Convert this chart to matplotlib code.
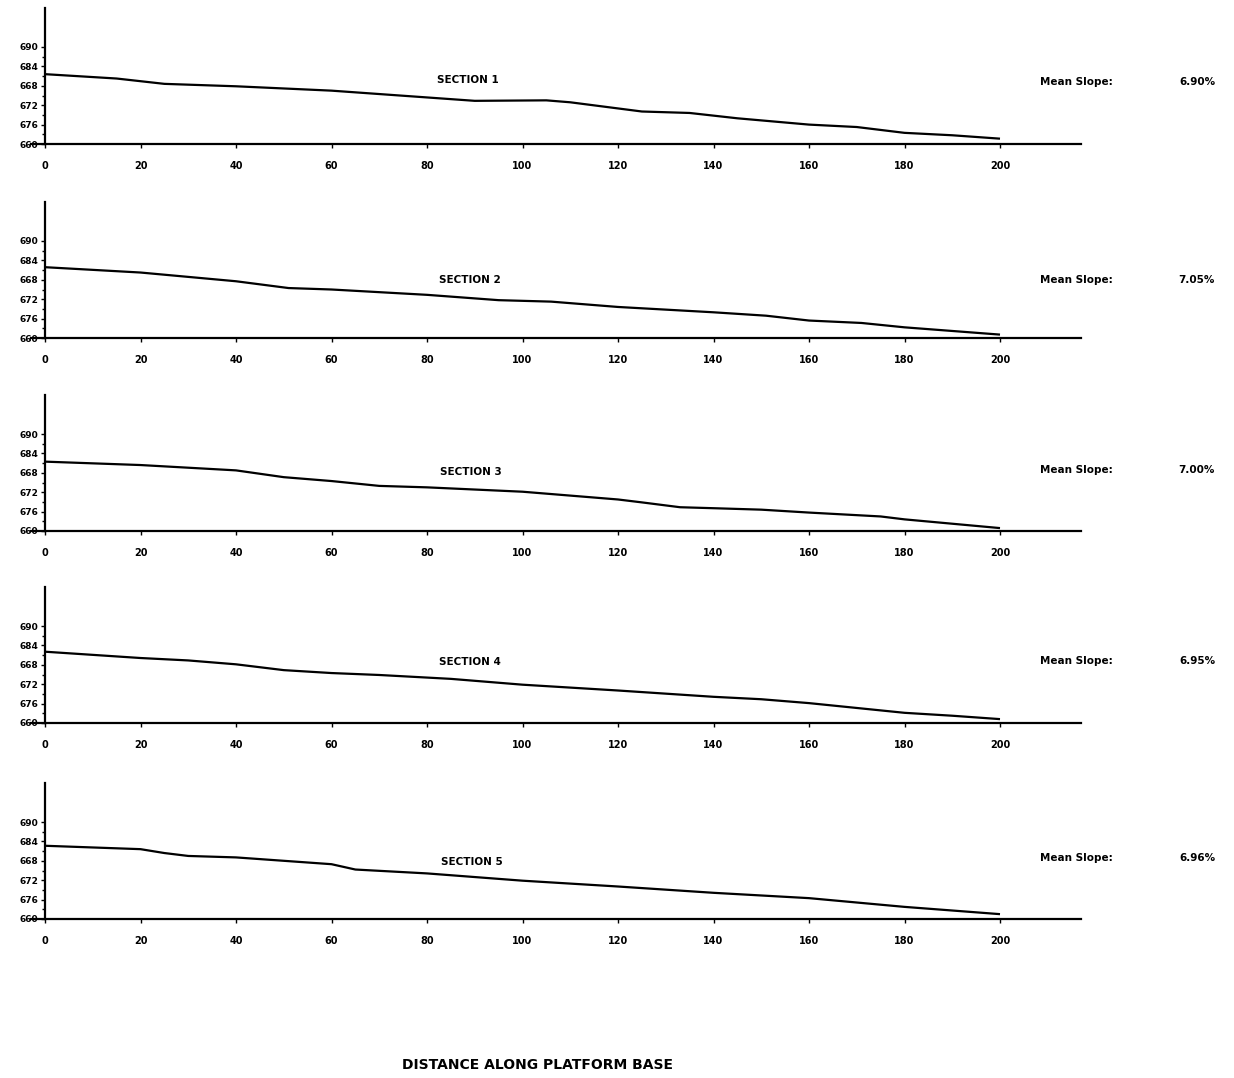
import matplotlib
matplotlib.use("Agg")
import matplotlib.pyplot as plt
import numpy as np

# ---------------- data ----------------
sections = ["SECTION 1", "SECTION 2", "SECTION 3", "SECTION 4", "SECTION 5"]
mean_slopes = ["6.90%", "7.05%", "7.00%", "6.95%", "6.96%"]

s1_x = [0, 15, 25, 40, 60, 80, 90, 105, 110, 125, 135, 145, 160, 170, 180, 190, 200]
s1_y = [14.4, 13.5, 12.4, 11.9, 11.0, 9.6, 8.9, 9.0, 8.6, 6.7, 6.4, 5.3, 4.0, 3.5, 2.3, 1.8, 1.1]

s2_x = [0, 20, 40, 51, 60, 80, 95, 106, 120, 140, 151, 160, 171, 180, 200]
s2_y = [14.6, 13.5, 11.7, 10.3, 10.0, 8.9, 7.8, 7.5, 6.4, 5.3, 4.6, 3.6, 3.1, 2.2, 0.7]

s3_x = [0, 20, 40, 50, 60, 70, 80, 100, 110, 120, 125, 133, 140, 150, 160, 175, 180, 200]
s3_y = [14.3, 13.6, 12.5, 11.1, 10.3, 9.3, 9.0, 8.1, 7.3, 6.5, 5.9, 4.9, 4.7, 4.4, 3.8, 3.0, 2.4, 0.6]

s4_x = [0, 20, 30, 40, 50, 60, 70, 85, 100, 120, 140, 150, 160, 170, 180, 190, 200]
s4_y = [14.7, 13.4, 12.9, 12.1, 10.9, 10.3, 9.9, 9.1, 7.9, 6.7, 5.4, 4.9, 4.1, 3.1, 2.1, 1.5, 0.8]

s5_x = [0, 20, 25, 30, 40, 60, 65, 80, 100, 120, 140, 160, 180, 200]
s5_y = [15.1, 14.4, 13.6, 13.0, 12.7, 11.3, 10.2, 9.4, 7.9, 6.7, 5.4, 4.3, 2.5, 1.0]

profiles_x = [s1_x, s2_x, s3_x, s4_x, s5_x]
profiles_y = [s1_y, s2_y, s3_y, s4_y, s5_y]

x_ticks = [0, 20, 40, 60, 80, 100, 120, 140, 160, 180, 200]
y_ticks = [0, 4, 8, 12, 16, 20]
y_minor_ticks = [2, 6, 10, 14, 18]
y_tick_labels = ["660", "676", "672", "668", "684", "690"]

x_title = "DISTANCE ALONG PLATFORM BASE"

# ---------------- layout ----------------
W, H = 1234, 1078
fig = plt.figure(figsize=(W / 100, H / 100), dpi=100)

baselines_px = [144, 338, 531, 723, 919]
px_per_unit = 4.85
ylim_top = 28
x_left, x_right = -3, 217
left_px = 45 + x_left * 4.775
right_px = 45 + x_right * 4.775

section_pos = [(468, 80), (470, 280), (471, 472), (470, 662), (472, 862)]
slope_y = [82, 280, 470, 661, 858]

font = dict(family="DejaVu Sans", fontweight="bold")

for i in range(5):
    base = baselines_px[i]
    height_px = ylim_top * px_per_unit
    ax = fig.add_axes([left_px / W, 1 - base / H, (right_px - left_px) / W, height_px / H])
    ax.plot(profiles_x[i], profiles_y[i], color="black", lw=1.6, solid_capstyle="butt")
    ax.set_xlim(x_left, x_right)
    ax.set_ylim(0, ylim_top)
    ax.spines["top"].set_visible(False)
    ax.spines["right"].set_visible(False)
    ax.spines["left"].set_position(("data", 0))
    ax.spines["left"].set_bounds(0, ylim_top)
    for s in ("left", "bottom"):
        ax.spines[s].set_linewidth(1.6)
    ax.set_xticks(x_ticks)
    ax.set_xticklabels([str(v) for v in x_ticks], fontsize=7, **font)
    ax.set_yticks(y_ticks)
    ax.set_yticklabels(y_tick_labels, fontsize=6.5, **font)
    ax.set_yticks(y_minor_ticks, minor=True)
    ax.tick_params(axis="x", direction="out", length=3, width=1, pad=9)
    ax.tick_params(axis="y", direction="out", length=3, width=1, pad=2)
    ax.tick_params(axis="y", which="minor", direction="out", length=2, width=1)
    ax.patch.set_alpha(0)

    sx, sy = section_pos[i]
    fig.text(sx / W, 1 - sy / H, sections[i], ha="center", va="center", fontsize=7.5, **font)
    fig.text(1040 / W, 1 - slope_y[i] / H, "Mean Slope:", ha="left", va="center", fontsize=7.5, **font)
    fig.text(1215 / W, 1 - slope_y[i] / H, mean_slopes[i], ha="right", va="center", fontsize=7.5, **font)

fig.text(538 / W, 1 - 1065 / H, x_title, ha="center", va="center", fontsize=10, **font)

fig.savefig("out.png", dpi=100, facecolor="white")
